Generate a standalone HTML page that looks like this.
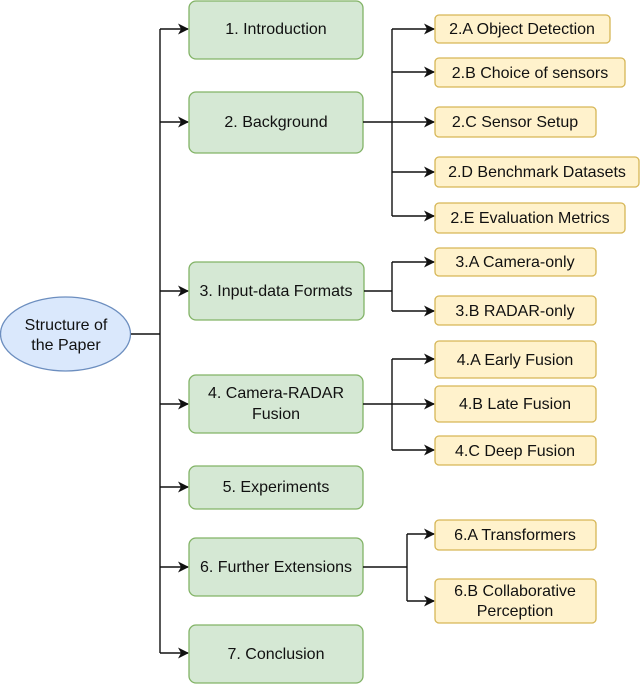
<!DOCTYPE html>
<html><head><meta charset="utf-8"><style>
html,body{margin:0;padding:0;background:#fff;}
svg{display:block;}
text{font-family:"Liberation Sans",Arial,sans-serif;font-size:16px;fill:#111;text-anchor:middle;}
.g{fill:#d5e8d4;stroke:#82b366;stroke-width:1.3;}
.y{fill:#fff2cc;stroke:#d6b656;stroke-width:1.3;}
.l{stroke:#111;stroke-width:1.4;fill:none;}
</style></head><body>
<svg width="640" height="684" viewBox="0 0 640 684">
<defs><marker id="a" markerWidth="11" markerHeight="11" refX="10" refY="5.5" orient="auto" markerUnits="userSpaceOnUse"><path d="M0,0 L11,5.5 L0,11 L3,5.5 z" fill="#111"/></marker></defs>
<ellipse cx="65.5" cy="334" rx="65" ry="37" fill="#dae8fc" stroke="#6c8ebf" stroke-width="1.3"/>
<text x="66" y="330">Structure of</text><text x="66" y="350">the Paper</text>
<path class="l" d="M131 334 H160 M160 29 V653"/>
<g class="l">
<path d="M160 29 H188" marker-end="url(#a)"/>
<path d="M160 122 H188" marker-end="url(#a)"/>
<path d="M160 291 H188" marker-end="url(#a)"/>
<path d="M160 404 H188" marker-end="url(#a)"/>
<path d="M160 487 H188" marker-end="url(#a)"/>
<path d="M160 567 H188" marker-end="url(#a)"/>
<path d="M160 653 H188" marker-end="url(#a)"/>
</g>
<rect class="g" x="189" y="1" width="174" height="58" rx="7"/><text x="276" y="34">1. Introduction</text>
<rect class="g" x="189" y="92" width="174" height="61" rx="7"/><text x="276" y="127">2. Background</text>
<rect class="g" x="189" y="262" width="175" height="58" rx="7"/><text x="276" y="296">3. Input-data Formats</text>
<rect class="g" x="189" y="375" width="174" height="58" rx="7"/><text x="276" y="398">4. Camera-RADAR</text><text x="276" y="419">Fusion</text>
<rect class="g" x="189" y="466" width="174" height="43" rx="7"/><text x="276" y="492">5. Experiments</text>
<rect class="g" x="189" y="538" width="174" height="58" rx="7"/><text x="276" y="572">6. Further Extensions</text>
<rect class="g" x="189" y="625" width="174" height="58" rx="7"/><text x="276" y="659">7. Conclusion</text>
<path class="l" d="M363 122 H392 M392 29 V216 M364 291 H392 M392 262 V311 M363 404 H392 M392 359 V450 M363 567 H407 M407 534 V601"/>
<g class="l">
<path d="M392 29 H434" marker-end="url(#a)"/>
<path d="M392 72 H434" marker-end="url(#a)"/>
<path d="M392 122 H434" marker-end="url(#a)"/>
<path d="M392 172 H434" marker-end="url(#a)"/>
<path d="M392 216 H434" marker-end="url(#a)"/>
<path d="M392 262 H434" marker-end="url(#a)"/>
<path d="M392 311 H434" marker-end="url(#a)"/>
<path d="M392 359 H434" marker-end="url(#a)"/>
<path d="M392 404 H434" marker-end="url(#a)"/>
<path d="M392 450 H434" marker-end="url(#a)"/>
<path d="M407 534 H434" marker-end="url(#a)"/>
<path d="M407 601 H434" marker-end="url(#a)"/>
</g>
<rect class="y" x="435" y="15" width="175" height="28" rx="4"/><text x="522" y="34">2.A Object Detection</text>
<rect class="y" x="435" y="58" width="190" height="29" rx="4"/><text x="530" y="78">2.B Choice of sensors</text>
<rect class="y" x="435" y="107" width="161" height="30" rx="4"/><text x="515" y="127">2.C Sensor Setup</text>
<rect class="y" x="435" y="157" width="204" height="30" rx="4"/><text x="537" y="177">2.D Benchmark Datasets</text>
<rect class="y" x="435" y="203" width="190" height="30" rx="4"/><text x="530" y="223">2.E Evaluation Metrics</text>
<rect class="y" x="435" y="248" width="161" height="28" rx="4"/><text x="515" y="267">3.A Camera-only</text>
<rect class="y" x="435" y="296" width="161" height="29" rx="4"/><text x="515" y="316">3.B RADAR-only</text>
<rect class="y" x="435" y="341" width="161" height="37" rx="4"/><text x="515" y="365">4.A Early Fusion</text>
<rect class="y" x="435" y="386" width="161" height="36" rx="4"/><text x="515" y="409">4.B Late Fusion</text>
<rect class="y" x="435" y="436" width="161" height="29" rx="4"/><text x="515" y="456">4.C Deep Fusion</text>
<rect class="y" x="435" y="520" width="161" height="30" rx="4"/><text x="515" y="540">6.A Transformers</text>
<rect class="y" x="435" y="579" width="161" height="44" rx="4"/><text x="515" y="596">6.B Collaborative</text><text x="515" y="616">Perception</text>
</svg>
</body></html>
